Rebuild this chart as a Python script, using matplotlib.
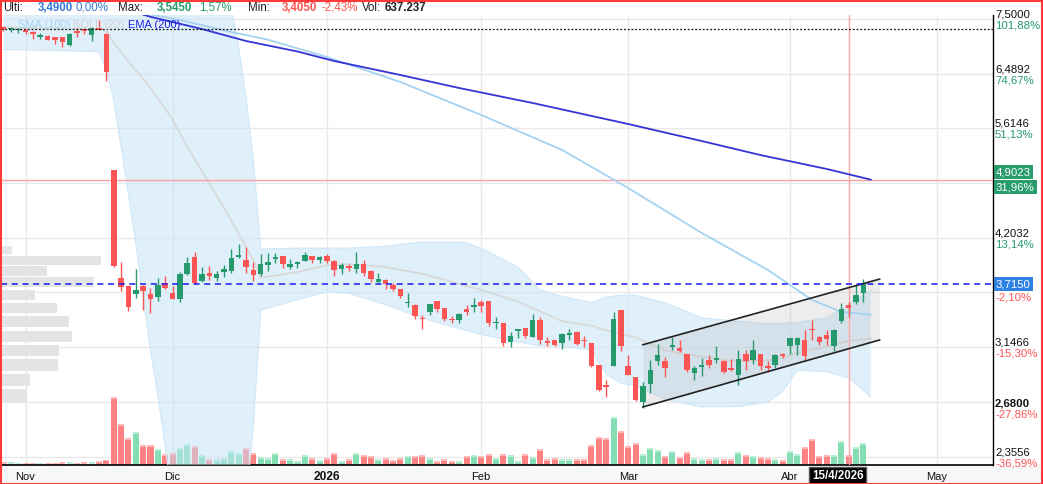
import matplotlib
matplotlib.use('Agg')
import matplotlib.pyplot as plt
import matplotlib.transforms as mtransforms
from matplotlib.patches import Rectangle
import numpy as np

plt.rcParams['font.family'] = ['Liberation Sans', 'DejaVu Sans']

# daily candles, index 0 = 29 Oct 2025 ... 117 = 17 Apr 2026
opens = [7.32, 7.30, 7.28, 7.29, 7.25, 7.16, 7.17, 7.15, 7.15, 7.00,
         7.26, 7.28, 7.18, 7.33, 7.21, 5.03, 3.78, 3.70, 3.625, 3.70,
         3.62, 3.59, 3.73, 3.63, 3.575, 3.82, 3.99, 3.75, 3.83, 3.78,
         3.84, 3.85, 4.00, 3.96, 3.86, 3.82, 3.915, 3.97, 4.005, 3.89,
         3.925, 3.95, 4.005, 3.96, 4.005, 3.95, 3.87, 3.90, 3.865, 3.925,
         3.85, 3.74, 3.76, 3.71, 3.67, 3.535, 3.52, 3.40, 3.455, 3.56,
         3.49, 3.39, 3.38, 3.48, 3.50, 3.55, 3.555, 3.35, 3.35, 3.19,
         3.285, 3.31, 3.23, 3.38, 3.19, 3.205, 3.18, 3.25, 3.275, 3.205,
         3.18, 3.00, 2.84, 2.995, 3.47, 2.99, 2.905, 2.72, 2.855, 3.035,
         3.03, 3.145, 3.14, 3.09, 2.935, 2.985, 3.04, 3.045, 3.035, 2.98,
         2.92, 3.09, 3.045, 3.09, 2.99, 3.00, 3.09, 3.16, 3.165, 3.21,
         3.30, 3.235, 3.25, 3.16, 3.37, 3.52, 3.55, 3.635]
highs = [7.36, 7.34, 7.33, 7.30, 7.26, 7.22, 7.18, 7.16, 7.16, 7.22,
         7.33, 7.30, 7.34, 7.49, 7.22, 5.03, 3.94, 3.70, 3.87, 3.71,
         3.68, 3.78, 3.80, 3.70, 3.84, 3.99, 4.05, 3.89, 3.90, 3.85,
         3.91, 4.08, 4.14, 4.10, 3.94, 4.03, 4.04, 4.04, 4.01, 3.97,
         3.955, 4.05, 4.01, 4.005, 4.03, 3.96, 3.93, 3.92, 4.05, 3.96,
         3.855, 3.83, 3.765, 3.725, 3.675, 3.63, 3.53, 3.425, 3.53, 3.56,
         3.49, 3.42, 3.44, 3.52, 3.58, 3.565, 3.56, 3.41, 3.355, 3.275,
         3.30, 3.31, 3.435, 3.405, 3.23, 3.21, 3.265, 3.30, 3.285, 3.245,
         3.18, 3.00, 2.885, 3.45, 3.47, 3.08, 2.905, 2.87, 3.04, 3.175,
         3.065, 3.235, 3.21, 3.09, 2.99, 3.06, 3.08, 3.155, 3.04, 3.05,
         3.12, 3.125, 3.205, 3.09, 3.03, 3.09, 3.095, 3.225, 3.235, 3.29,
         3.38, 3.24, 3.29, 3.30, 3.54, 3.545, 3.71, 3.765]
lows = [7.26, 7.25, 7.22, 7.21, 7.11, 7.11, 7.09, 7.02, 6.97, 6.99,
        7.16, 7.21, 7.07, 7.28, 6.37, 3.89, 3.65, 3.46, 3.58, 3.47,
        3.445, 3.56, 3.67, 3.57, 3.55, 3.81, 3.72, 3.74, 3.76, 3.75,
        3.79, 3.83, 3.98, 3.83, 3.75, 3.80, 3.85, 3.93, 3.88, 3.87,
        3.885, 3.95, 3.93, 3.93, 3.93, 3.80, 3.82, 3.85, 3.83, 3.80,
        3.74, 3.73, 3.67, 3.65, 3.58, 3.50, 3.39, 3.30, 3.425, 3.45,
        3.37, 3.35, 3.35, 3.43, 3.455, 3.455, 3.325, 3.30, 3.155, 3.15,
        3.22, 3.22, 3.23, 3.17, 3.16, 3.155, 3.13, 3.205, 3.165, 3.15,
        2.985, 2.80, 2.76, 2.99, 3.115, 2.92, 2.73, 2.68, 2.785, 3.00,
        2.91, 3.125, 3.11, 2.945, 2.885, 2.915, 2.98, 3.02, 2.94, 2.955,
        2.85, 2.96, 3.01, 2.96, 2.95, 2.975, 3.06, 3.09, 3.08, 3.04,
        3.205, 3.165, 3.165, 3.115, 3.35, 3.405, 3.53, 3.55]
closes = [7.31, 7.32, 7.30, 7.24, 7.20, 7.18, 7.10, 7.10, 7.06, 7.21,
          7.23, 7.27, 7.33, 7.29, 6.52, 3.90, 3.69, 3.50, 3.66, 3.655,
          3.57, 3.71, 3.68, 3.575, 3.82, 3.93, 3.73, 3.82, 3.80, 3.82,
          3.87, 3.985, 4.02, 3.895, 3.81, 3.92, 3.94, 3.99, 3.92, 3.92,
          3.935, 4.02, 3.96, 3.995, 3.95, 3.855, 3.91, 3.88, 3.92, 3.83,
          3.765, 3.765, 3.715, 3.67, 3.605, 3.55, 3.415, 3.39, 3.53, 3.48,
          3.39, 3.38, 3.435, 3.455, 3.51, 3.51, 3.35, 3.36, 3.18, 3.245,
          3.295, 3.245, 3.38, 3.21, 3.185, 3.165, 3.26, 3.27, 3.17, 3.195,
          2.995, 2.81, 2.835, 3.39, 3.16, 2.925, 2.735, 2.84, 2.965, 3.08,
          2.98, 3.165, 3.115, 2.96, 2.975, 3.005, 3.00, 3.055, 2.95, 2.96,
          3.05, 3.03, 3.12, 2.99, 2.98, 3.08, 3.075, 3.22, 3.22, 3.07,
          3.29, 3.19, 3.215, 3.295, 3.48, 3.49, 3.615, 3.715]
# volume in thousands
volumes = [190, 190, 160, 160, 160, 160, 160, 160, 190, 190,
           160, 190, 190, 255, 350, 4330, 2620, 1710, 2090, 1260,
           1260, 1000, 685, 770, 1070, 1325, 1195, 620, 365, 365,
           430, 895, 770, 1070, 770, 490, 430, 770, 365, 365,
           255, 620, 430, 300, 430, 770, 255, 380, 750, 640,
           575, 385, 450, 300, 450, 575, 575, 640, 450, 235,
           385, 235, 235, 575, 640, 575, 705, 450, 705, 640,
           235, 705, 510, 1025, 385, 450, 385, 385, 385, 385,
           1280, 1790, 1710, 3070, 2175, 1215, 1410, 685, 1090, 960,
           575, 895, 510, 830, 450, 385, 385, 450, 385, 385,
           830, 640, 575, 510, 450, 385, 300, 895, 705, 1150,
           1665, 575, 640, 640, 1535, 637, 1150, 1410]

# indicators at a few candles
ema_idx = [0, 10, 20, 27, 33, 40, 45, 54, 62, 72, 85, 95, 103, 112, 118]
ema_val = [8.47, 7.99, 7.544, 7.304, 7.076, 6.882, 6.711, 6.467, 6.248,
           6.005, 5.680, 5.430, 5.232, 5.043, 4.9023]
sma_idx = [0, 14, 19, 24, 31, 36, 44, 54, 65, 76, 85, 95, 104, 110, 114, 118]
sma_val = [7.70, 7.66, 7.62, 7.48, 7.246, 7.10, 6.782, 6.348, 5.817, 5.303,
           4.795, 4.257, 3.860, 3.566, 3.454, 3.43]
bb_idx = [0, 13, 14, 15, 16, 17, 18, 19, 20, 21, 22, 23, 25, 30, 31, 32, 33,
          34, 35, 40, 44, 47, 52, 57, 60, 63, 66, 70, 73, 76, 80, 82, 84, 86,
          90, 95, 100, 104, 106, 108, 112, 115, 118]
bb_upper = [7.75, 7.75, 7.85, 8.30, 8.60, 8.80, 8.90, 9.00, 9.00, 9.00, 9.00,
            9.00, 9.00, 8.50, 7.75, 6.95, 6.10, 5.15, 4.08, 4.09, 4.09, 4.09,
            4.11, 4.157, 4.157, 4.15, 4.05, 3.89, 3.66, 3.60, 3.54, 3.594,
            3.61, 3.61, 3.54, 3.40, 3.37, 3.35, 3.35, 3.36, 3.40, 3.52, 3.66]
bb_mid = [7.33, 7.30, 7.26, 7.04, 6.87, 6.70, 6.55, 6.40, 6.25, 6.08, 5.92,
          5.75, 5.35, 4.55, 4.40, 4.25, 4.10, 3.96, 3.78, 3.84, 3.91, 3.92,
          3.89, 3.82, 3.76, 3.70, 3.64, 3.55, 3.46, 3.37, 3.33, 3.29, 3.26,
          3.23, 3.12, 3.065, 3.03, 3.04, 3.06, 3.10, 3.15, 3.20, 3.22]
bb_lower = [6.92, 6.88, 6.55, 6.05, 5.35, 4.72, 4.14, 3.59, 3.12, 2.77, 2.42,
            2.10, 2.00, 2.00, 2.00, 2.05, 2.10, 2.56, 3.47, 3.57, 3.64, 3.63,
            3.52, 3.40, 3.34, 3.29, 3.24, 3.19, 3.16, 3.156, 3.12, 2.93, 2.86,
            2.84, 2.74, 2.686, 2.69, 2.72, 2.80, 2.96, 2.95, 2.90, 2.76]

chan_idx = [87, 119.2]
chan_upper = [3.167, 3.768]
chan_lower = [2.686, 3.207]

# volume by price (left side)
prof_prices = [4.07, 3.96, 3.85, 3.74, 3.61, 3.49, 3.37, 3.24, 3.12, 3.00, 2.885, 2.77]
prof_vols = [11, 100, 46, 93, 34, 56, 68, 71, 58, 57, 29, 26]

last_close = 3.715
ema_last = 4.9023
ref_line = 7.30
cross_idx = 115

grid_vals = [7.5, 6.4892, 5.6146, 4.8577, 4.2032, 3.6367, 3.1466, 2.7224, 2.3556]
tick_vals = [7.5, 6.4892, 5.6146, 4.2032, 3.1466, 2.3556]
tick_pcts = ['101,88%', '74,67%', '51,13%', '13,14%', '-15,30%', '-36,59%']
month_idx = [3, 23, 44, 65, 85, 107, 127]
month_lbl = ['Nov', 'Dic', '2026', 'Feb', 'Mar', 'Abr', 'May']

RED = '#ff5454'
GREEN = '#26996d'
W, H = 1043, 484
YLO, YHI = 2.3035, 7.58

fig = plt.figure(figsize=(W / 100, H / 100), dpi=100)
fig.patch.set_facecolor('white')
pos = [1 / W, 19 / H, 992 / W, 450 / H]
xlim = (-0.34, 134.63)

# back axes: grid + volume
axv = fig.add_axes(pos, zorder=0)
axv.set_xlim(*xlim)
axv.set_ylim(0, 28800)
for s in ['top', 'left']:
    axv.spines[s].set_visible(False)
axv.spines['bottom'].set_linewidth(1.2)
axv.spines['right'].set_linewidth(1.0)
axv.set_xticks([])
axv.set_yticks([])
for m in month_idx:
    axv.axvline(m, color='#e9e9e9', lw=1, zorder=0)
for g in grid_vals:
    axv.axhline((np.log(g) - np.log(YLO)) / (np.log(YHI) - np.log(YLO)) * 28800,
                color='#e9e9e9', lw=1, zorder=0)

x = np.arange(len(closes))
o = np.array(opens)
c = np.array(closes)
up = c >= o
vcol = np.where(up, '#84ddb3', '#ff8282')
vcap = np.where(up, '#b8eed3', '#ffb8b8')
v = np.array(volumes)
axv.bar(x, v, width=0.82, color=vcol, zorder=2)
axv.bar(x, np.full(len(v), 110), bottom=v - 110, width=0.82, color=vcap, zorder=3)

# front axes: price (log)
ax = fig.add_axes(pos, zorder=1)
ax.set_facecolor('none')
ax.set_yscale('log')
ax.set_xlim(*xlim)
ax.set_ylim(YLO, YHI)
for s in ax.spines.values():
    s.set_visible(False)
ax.set_xticks([])
ax.set_yticks([])
ax.set_yticks([], minor=True)

trans_p = mtransforms.blended_transform_factory(ax.transAxes, ax.transData)
for p, pv in zip(prof_prices, prof_vols):
    ax.add_patch(Rectangle((0, p - 0.048), pv / max(prof_vols) * 0.1008, 0.096,
                           transform=trans_p, color='#e4e4e4', lw=0, zorder=0.5))

ax.fill_between(bb_idx, bb_lower, bb_upper, color='#c3e3f9', alpha=0.5, lw=0, zorder=1)
ax.plot(bb_idx, bb_upper, color='#cfe7f8', lw=0.8, zorder=1.1)
ax.plot(bb_idx, bb_lower, color='#cfe7f8', lw=0.8, zorder=1.1)
ax.plot(bb_idx, bb_mid, color='#d9d9d9', lw=1.3, zorder=1.2)

ax.fill_between(chan_idx, chan_lower, chan_upper, color='#b8b8b8', alpha=0.25, lw=0, zorder=1.3)
ax.plot(chan_idx, chan_upper, color='#222222', lw=1.2, zorder=5)
ax.plot(chan_idx, chan_lower, color='#222222', lw=1.2, zorder=5)

ax.plot(sma_idx, sma_val, color='#a3d2f2', lw=1.3, zorder=2)
ax.plot(ema_idx, ema_val, color='#3434d6', lw=1.3, zorder=2)

ax.axhline(ema_last, color='#ffa0a0', lw=1, zorder=1.5)
ax.axhline(last_close, color='#1a1aee', lw=1.1, dashes=(4, 3), zorder=6)
ax.axhline(ref_line, color='#111111', lw=0.9, dashes=(1.5, 1.5), zorder=6)
ax.axvline(cross_idx, color='#ffa8a8', lw=1, zorder=1.5)

for i in range(len(closes)):
    col = GREEN if up[i] else RED
    ax.vlines(x[i], lows[i], highs[i], color=col, lw=1, zorder=3)
    lo_b = min(opens[i], closes[i])
    hb = max(abs(closes[i] - opens[i]), lo_b * 0.004)
    ax.bar(x[i], hb, bottom=lo_b, width=0.75, color=col, lw=0, zorder=4)


def yfig(val):
    return ax.transData.transform((0, val))[1] / H


base = dict(transform=fig.transFigure, fontsize=8.2)
for tv, tp in zip(tick_vals, tick_pcts):
    yy = yfig(tv)
    fig.text(995 / W, yy + 1.5 / H, f'{tv:.4f}'.replace('.', ','), va='baseline', color='#111111', **base)
    pc = GREEN if not tp.startswith('-') else RED
    fig.text(995 / W, yy - 1.5 / H, tp, va='top', color=pc, **base)

yy = yfig(2.68)
fig.text(995 / W, yy + 1.5 / H, '2,6800', va='baseline', color='#111111', fontweight='bold', **base)
fig.text(995 / W, yy - 1.5 / H, '-27,86%', va='top', color=RED, **base)

yy = yfig(ema_last)
fig.text(996 / W, yy + 7.5 / H, '4,9023', va='center', color='white',
         bbox=dict(boxstyle='square,pad=0.18', fc='#2a9d6c', ec='none'), **base)
fig.text(996 / W, yy - 7.5 / H, '31,96%', va='center', color='white',
         bbox=dict(boxstyle='square,pad=0.18', fc='#2a9d6c', ec='none'), **base)
yy = yfig(last_close)
fig.text(996 / W, yy, '3,7150', va='center', color='white',
         bbox=dict(boxstyle='square,pad=0.18', fc='#2d80e4', ec='none'), **base)
fig.text(995 / W, yy - 13 / H, '-2,10%', va='center', color=RED, **base)

# month labels
trans_x = mtransforms.blended_transform_factory(ax.transData, fig.transFigure)
for m, lb in zip(month_idx, month_lbl):
    bold = lb == '2026'
    ax.text(m, 7 / H, lb, transform=trans_x, ha='center', va='center',
            fontsize=8.6 if bold else 8, fontweight='bold' if bold else 'normal',
            color='#111111')
ax.text(cross_idx - 1.5, 8 / H, '15/4/2026', transform=trans_x, ha='center', va='center',
        fontsize=8.3, fontweight='bold', color='white',
        bbox=dict(boxstyle='square,pad=0.25', fc='black', ec='#555555'))

# header
hy = 1 - 8 / H
head = [(3, 'Ulti:', '#222222', 'normal'), (38, '3,4900', '#3578d6', 'bold'),
        (76, '0,00%', '#3578d6', 'normal'), (118, 'Max:', '#222222', 'normal'),
        (157, '3,5450', '#26996d', 'bold'), (199, '1,57%', '#26996d', 'normal'),
        (248, 'Min:', '#222222', 'normal'), (282, '3,4050', RED, 'bold'),
        (321, '-2,43%', RED, 'normal'), (362, 'Vol:', '#222222', 'normal'),
        (385, '637.237', '#222222', 'bold')]
for hx, t, col, fw in head:
    fig.text(hx / W, hy, t, color=col, fontweight=fw, fontsize=8.3, va='center')

leg_y = 1 - 24.5 / H
fig.text(18 / W, leg_y, 'SMA (100)', color='#a3d2f2', fontsize=8, va='center')
fig.text(73 / W, leg_y, 'BOLL (20)', color='#d3d3d3', fontsize=8, va='center')
fig.text(128 / W, leg_y, 'EMA (200)', color='#2020e0', fontsize=8, va='center')

fig.patches.append(Rectangle((0, 0), 1, 18 / H, transform=fig.transFigure,
                             color='#f7f7f7', zorder=-5))
fig.patches.append(Rectangle((0.5 / W, 0.5 / H), 1 - 1.5 / W, 1 - 1.5 / H,
                             transform=fig.transFigure, fill=False,
                             edgecolor='#ff3838', lw=1.5))

fig.savefig('out.png', dpi=100, facecolor='white')
